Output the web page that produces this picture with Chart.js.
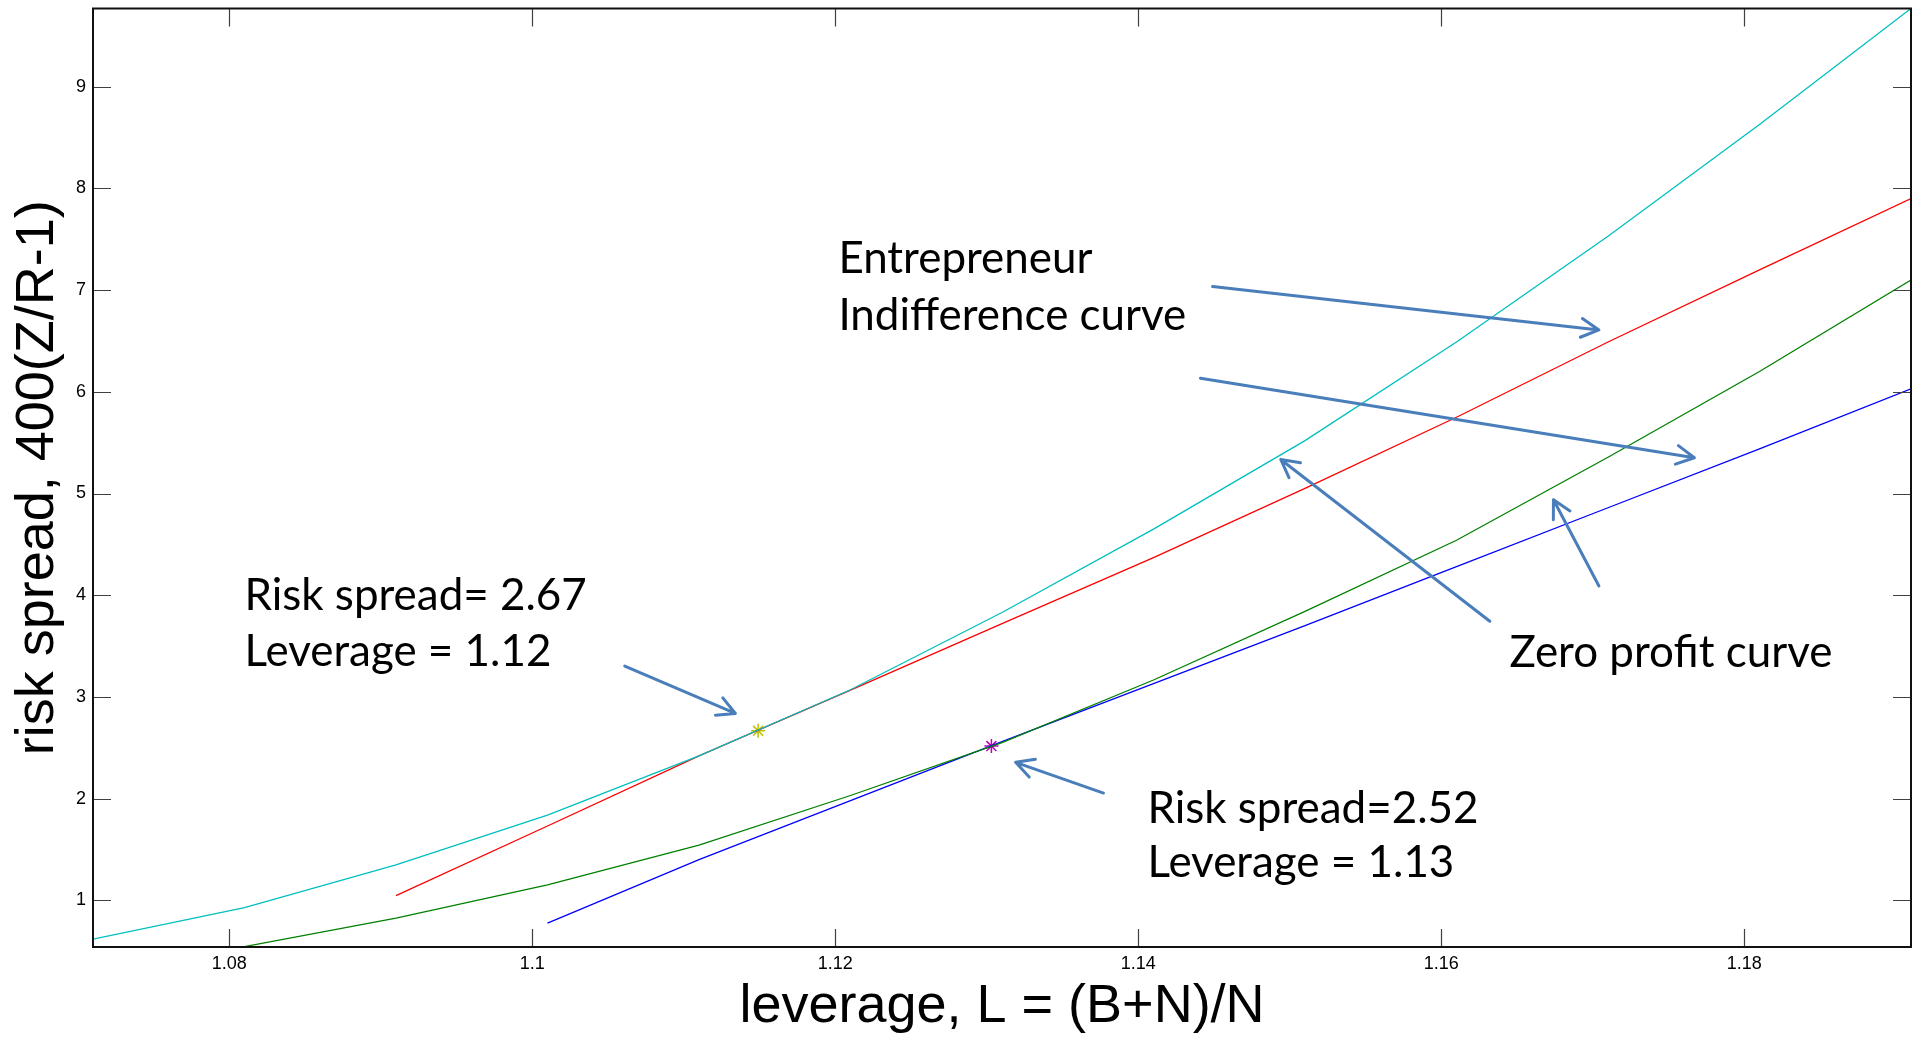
<!DOCTYPE html>
<html>
<head>
<meta charset="utf-8">
<script src="https://cdn.jsdelivr.net/npm/chart.js@4.4.1/dist/chart.umd.min.js"></script>
<style>
html,body{margin:0;padding:0;background:#fff;overflow:hidden}
canvas{display:block}
</style>
</head>
<body>
<canvas id="c" width="1925" height="1037"></canvas>
<script>
// ---- data ----
const leverage = [1.071,1.081,1.091,1.101,1.111,1.121,1.131,1.141,1.151,1.161,1.171,1.181,1.191];
const cyanSpread  = [0.617,0.927,1.347,1.838,2.42,3.07,3.83,4.65,5.52,6.49,7.53,8.63,9.77];
const redSpread   = [null,null,1.045,1.73,2.42,3.066,3.72,4.37,5.05,5.75,6.49,7.20,7.90];
const greenSpread = [null,0.544,0.823,1.15,1.543,2.03,2.55,3.166,3.84,4.54,5.357,6.20,7.10];
const blueSpread  = [null,null,null,0.774,1.40,1.98,2.56,3.13,3.70,4.28,4.86,5.44,6.03];
const yellowStarX = [1.1149];
const yellowStarY = [2.666];
const magentaStarX = [1.1303];
const magentaStarY = [2.516];
const xTicks = [1.08,1.10,1.12,1.14,1.16,1.18];
const xTickLabels = ['1.08','1.1','1.12','1.14','1.16','1.18'];
const yTicks = [1,2,3,4,5,6,7,8,9];
const yTickLabels = ['1','2','3','4','5','6','7','8','9'];
const xRange = [1.071,1.191];
const yRange = [0.54,9.77];
const xTitle = 'leverage, L = (B+N)/N';
const yTitle = 'risk spread, 400(Z/R-1)';

// ---- annotations (anchored in data coordinates) ----
const annotationTexts = [
  {lines:['Entrepreneur','Indifference curve'], x:1.1202, y:7.165, gap:57},
  {lines:['Risk spread= 2.67','Leverage = 1.12'], x:1.0810, y:3.852, gap:56},
  {lines:['Risk spread=2.52','Leverage = 1.13'], x:1.1406, y:1.756, gap:54},
  {lines:['Zero profit curve'], x:1.1645, y:3.295, gap:56}
];
const annotationArrows = [
  {from:[1.1449,7.037], to:[1.1704,6.609]},
  {from:[1.1441,6.134], to:[1.1767,5.352]},
  {from:[1.1632,3.744], to:[1.1494,5.335]},
  {from:[1.1704,4.090], to:[1.1674,4.939]},
  {from:[1.1061,3.302], to:[1.1134,2.837]},
  {from:[1.1377,2.054], to:[1.1319,2.356]}
];

const toPts = (xs, ys) => xs.map((x,i)=>({x:x, y:ys[i]})).filter(p=>p.y!==null);

const framePlugin = {
  id:'frame',
  afterDatasetsDraw(chart){
    const {ctx, chartArea:a, scales:{x, y}} = chart;
    ctx.save();
    ctx.strokeStyle = '#404040';
    ctx.lineWidth = 1.2;
    const tl = 18;
    ctx.beginPath();
    xTicks.forEach(v=>{
      const px = Math.round(x.getPixelForValue(v))+0.5;
      ctx.moveTo(px,a.bottom); ctx.lineTo(px,a.bottom-tl);
      ctx.moveTo(px,a.top); ctx.lineTo(px,a.top+tl);
    });
    yTicks.forEach(v=>{
      const py = Math.round(y.getPixelForValue(v))+0.5;
      ctx.moveTo(a.left,py); ctx.lineTo(a.left+tl,py);
      ctx.moveTo(a.right,py); ctx.lineTo(a.right-tl,py);
    });
    ctx.stroke();
    ctx.strokeStyle = '#111';
    ctx.lineWidth = 2;
    ctx.strokeRect(a.left, a.top, a.right-a.left, a.bottom-a.top);
    ctx.restore();
  }
};

const annotationPlugin = {
  id:'annot',
  afterDraw(chart){
    const {ctx, scales:{x, y}} = chart;
    ctx.save();
    ctx.strokeStyle = '#4A7EBB';
    ctx.lineWidth = 3;
    ctx.lineCap = 'round';
    ctx.lineJoin = 'round';
    annotationArrows.forEach(ar=>{
      const x0 = x.getPixelForValue(ar.from[0]), y0 = y.getPixelForValue(ar.from[1]);
      const x1 = x.getPixelForValue(ar.to[0]), y1 = y.getPixelForValue(ar.to[1]);
      const ang = Math.atan2(y1-y0, x1-x0);
      const L = 20, h = 28*Math.PI/180;
      ctx.beginPath();
      ctx.moveTo(x0,y0); ctx.lineTo(x1,y1);
      ctx.moveTo(x1 - L*Math.cos(ang-h), y1 - L*Math.sin(ang-h));
      ctx.lineTo(x1,y1);
      ctx.lineTo(x1 - L*Math.cos(ang+h), y1 - L*Math.sin(ang+h));
      ctx.stroke();
    });
    ctx.font = '44px Lato';
    const w = ctx.measureText('Indifference curve').width;
    const size = 44*348/w;
    ctx.font = size.toFixed(2)+'px Lato';
    ctx.fillStyle = '#000';
    ctx.textAlign = 'left';
    ctx.textBaseline = 'alphabetic';
    annotationTexts.forEach(t=>{
      const px = x.getPixelForValue(t.x), py = y.getPixelForValue(t.y);
      t.lines.forEach((ln,i)=>ctx.fillText(ln, px, py + i*t.gap));
    });
    ctx.restore();
  }
};

const tickFont = {family:'Liberation Sans', size:18};
const titleFont = {family:'Liberation Sans', size:54};

new Chart(document.getElementById('c'), {
  type:'scatter',
  data:{datasets:[
    {data:toPts(leverage,cyanSpread), borderColor:'rgb(0,191,191)', borderWidth:1.3, showLine:true, pointRadius:0, tension:0},
    {data:toPts(leverage,redSpread), borderColor:'rgb(255,0,0)', borderWidth:1.3, showLine:true, pointRadius:0, tension:0},
    {data:toPts(leverage,greenSpread), borderColor:'rgb(0,128,0)', borderWidth:1.3, showLine:true, pointRadius:0, tension:0},
    {data:toPts(leverage,blueSpread), borderColor:'rgb(0,0,255)', borderWidth:1.3, showLine:true, pointRadius:0, tension:0},
    {data:toPts(yellowStarX,yellowStarY), borderColor:'rgb(191,191,0)', backgroundColor:'rgb(191,191,0)', pointStyle:'star', pointRadius:7, borderWidth:1.5, showLine:false},
    {data:toPts(magentaStarX,magentaStarY), borderColor:'rgb(191,0,191)', backgroundColor:'rgb(191,0,191)', pointStyle:'star', pointRadius:7, borderWidth:1.5, showLine:false}
  ]},
  options:{
    responsive:false,
    animation:false,
    devicePixelRatio:1,
    layout:{padding:{left:0,right:14,top:7,bottom:0}},
    plugins:{legend:{display:false}, tooltip:{enabled:false}},
    scales:{
      x:{
        type:'linear', min:xRange[0], max:xRange[1],
        afterBuildTicks:s=>{ s.ticks = xTicks.map(v=>({value:v})); },
        afterFit:s=>{ s.height = 90; s.paddingLeft = 0; s.paddingRight = 0; },
        grid:{display:false, drawTicks:false, tickLength:0}, border:{display:false},
        ticks:{callback:(v,i)=>xTickLabels[i], font:tickFont, color:'#000', padding:6, maxRotation:0, autoSkip:false},
        title:{display:true, text:xTitle, font:titleFont, color:'#000', padding:{top:0,bottom:-3}}
      },
      y:{
        type:'linear', min:yRange[0], max:yRange[1],
        afterBuildTicks:s=>{ s.ticks = yTicks.map(v=>({value:v})); },
        afterFit:s=>{ s.width = 93; s.paddingTop = 0; s.paddingBottom = 0; },
        grid:{display:false, drawTicks:false, tickLength:0}, border:{display:false},
        ticks:{callback:(v,i)=>yTickLabels[i], font:tickFont, color:'#000', padding:7, autoSkip:false},
        title:{display:true, text:yTitle, font:titleFont, color:'#000', padding:{top:6,bottom:0}}
      }
    }
  },
  plugins:[framePlugin, annotationPlugin]
});
</script>
</body>
</html>
